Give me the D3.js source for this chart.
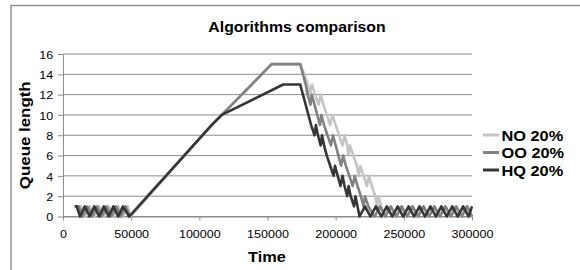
<!DOCTYPE html>
<html><head><meta charset="utf-8">
<script src="https://cdn.jsdelivr.net/npm/d3@7"></script>
<style>
html,body{margin:0;padding:0;background:#fff;}
svg{display:block;font-family:"Liberation Sans",Arial,sans-serif;}
</style></head>
<body><svg id="c" width="580" height="270"></svg>
<script>
const chartTitle = "Algorithms comparison";
const xTitle = "Time";
const yTitle = "Queue length";
const xTicks = [0, 50000, 100000, 150000, 200000, 250000, 300000];
const yTicks = [0, 2, 4, 6, 8, 10, 12, 14, 16];
const seriesNames = ["NO 20%", "OO 20%", "HQ 20%"];
const seriesColors = ["#c4c4c4", "#818181", "#363636"];

const dataNO = [[11500,1],[13000,1],[16000,0],[19500,1],[23000,0],[26500,1],[30000,0],[33500,1],[37000,0],[40500,1],[44000,0],[47500,1],[49500,0],
 [109000,9],[116500,10],[153000,15],[174000,15],
 [177000,14],[179500,13],[181000,12],[182500,13],[185000,12],[187500,11],[189000,12],[191000,11],[193500,10],[196000,9],[197500,10],[200000,9],[202500,8],[205000,7],[206500,8],[208500,7],[209500,6],[210500,7],[213000,6],[215500,5],[217000,4],[218000,5],[220500,4],[223000,3],[224500,4],[226500,3],[229000,2],[230500,1],[231500,2],[233500,1],[236000,0],
 [240000,1],[244000,0],[248000,1],[252000,0],[256000,1],[260000,0],[264000,1],[268000,0],[272000,1],[276000,0],[280000,1],[284000,0],[288000,1],[292000,0],[296000,1],[300000,0]];

const dataOO = [[10000,1],[11500,1],[14500,0],[18000,1],[21500,0],[25000,1],[28500,0],[32000,1],[35500,0],[39000,1],[42500,0],[46000,1],[49000,0],
 [109000,9],[116500,10],[153000,15],[174000,15],
 [176000,14],[178000,13],[179500,12],[181500,11],[182500,12],[184500,11],[186500,10],[188500,9],[189500,10],[191500,9],[194000,8],[196500,7],[198000,8],[200000,7],[202000,6],[204000,5],[205500,6],[207500,5],[210000,4],[212500,3],[214000,4],[216000,3],[218500,2],[220500,1],[221500,2],[224000,1],[228500,0],
 [232500,1],[236500,0],[240500,1],[244500,0],[248500,1],[252500,0],[256500,1],[260500,0],[264500,1],[268500,0],[272500,1],[276500,0],[280500,1],[284500,0],[288500,1],[292500,0],[296500,1],[300000,0]];

const dataHQ = [[8500,1],[10000,1],[12500,0],[16000,1],[19500,0],[23000,1],[26500,0],[30000,1],[33500,0],[37000,1],[40500,0],[44000,1],[48500,0],
 [109000,9],[116500,10],[161500,13],[174000,13],
 [176000,12],[178000,11],[180000,10],[182000,9],[184500,8],[185500,9],[187000,8],[189000,7],[190000,8],[191500,7],[193500,6],[196000,5],[198500,4],[199500,5],[201500,4],[203500,3],[205000,4],[206500,3],[208500,2],[209500,3],[211000,2],[213500,1],[214500,2],[216000,1],[217500,0],
 [221500,1],[225500,0],[229500,1],[233500,0],[237500,1],[241500,0],[245500,1],[249500,0],[253500,1],[257500,0],[261500,1],[265500,0],[269500,1],[273500,0],[277500,1],[281500,0],[285500,1],[289500,0],[293500,1],[297500,0],[300000,1]];

const allData = [dataNO, dataOO, dataHQ];

const svg = d3.select("#c");
const SX = 1.09; // horizontal stretch of the reference's lettering
const plot = {l: 63, r: 472, t: 54, b: 216.5};
const x = d3.scaleLinear().domain([0, 300000]).range([plot.l, plot.r]);
const y = d3.scaleLinear().domain([0, 16]).range([plot.b, plot.t]);
const grid = "#8c8c8c";

// chart frame
svg.append("rect").attr("x", 11).attr("y", 5.5).attr("width", 600).attr("height", 300)
  .attr("fill", "none").attr("stroke", "#8a8a8a").attr("stroke-width", 1.4);

function stretchedText(px, py, str, size, weight, anchor) {
  return svg.append("text").attr("transform", `translate(${px},${py}) scale(${SX},1)`)
    .attr("text-anchor", anchor).attr("font-size", size).attr("font-weight", weight)
    .attr("fill", "#000").text(str);
}

// gridlines
svg.append("g").selectAll("line").data(yTicks).join("line")
  .attr("x1", plot.l).attr("x2", plot.r).attr("y1", d => y(d)).attr("y2", d => y(d))
  .attr("stroke", grid).attr("stroke-width", 1);

// axes
const yAxis = svg.append("g").attr("transform", `translate(${plot.l},0)`)
  .call(d3.axisLeft(y).tickValues(yTicks).tickSize(5).tickPadding(4).tickSizeOuter(0));
const xAxis = svg.append("g").attr("transform", `translate(0,${plot.b})`)
  .call(d3.axisBottom(x).tickValues(xTicks).tickFormat(d => String(d)).tickSize(4).tickPadding(9).tickSizeOuter(0));
[yAxis, xAxis].forEach(a => {
  a.select(".domain").attr("stroke", grid).attr("stroke-width", 1);
  a.selectAll(".tick line").attr("stroke", grid).attr("stroke-width", 1);
  a.selectAll("text").attr("font-size", 11.5).attr("fill", "#000")
   .attr("font-family", '"Liberation Sans",Arial,sans-serif');
});
yAxis.selectAll("text").attr("transform", `scale(${SX},1)`).attr("x", -9).attr("dy", "0.36em");
xAxis.selectAll("text").attr("transform", `scale(${SX},1)`);

// lines
const line = d3.line().x(d => x(d[0])).y(d => y(d[1]));
svg.append("g").selectAll("path").data(allData).join("path")
  .attr("d", d => line(d)).attr("fill", "none")
  .attr("stroke", (d, i) => seriesColors[i]).attr("stroke-width", 2.6)
  .attr("stroke-linejoin", "round");

// titles
stretchedText(297, 32, chartTitle, 14.5, "bold", "middle");
stretchedText(267, 262, xTitle, 15, "bold", "middle");
svg.append("text").attr("transform", `translate(30,${(plot.t + plot.b) / 2}) rotate(-90) scale(${SX},1)`)
  .attr("text-anchor", "middle").attr("font-size", 15.5).attr("font-weight", "bold").text(yTitle);

// legend
const legY = [135, 152.5, 170];
seriesNames.forEach((n, i) => {
  svg.append("line").attr("x1", 483).attr("x2", 499).attr("y1", legY[i]).attr("y2", legY[i])
    .attr("stroke", seriesColors[i]).attr("stroke-width", 3);
  stretchedText(501.5, legY[i] + 5.5, n, 15, "bold", "start");
});
</script></body></html>
